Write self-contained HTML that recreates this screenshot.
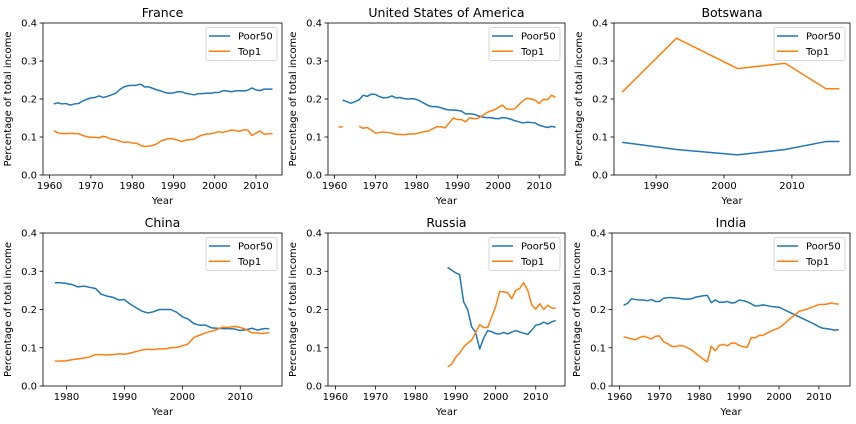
<!DOCTYPE html>
<html><head><meta charset="utf-8"><style>
body{margin:0;background:#fff;}
svg{display:block;font-family:"DejaVu Sans","Liberation Sans",sans-serif;}
</style></head><body>
<svg id="chart" width="856" height="424" xmlns="http://www.w3.org/2000/svg"></svg>
<script>
const yTicks=[0,0.1,0.2,0.3,0.4];
const yTickLabels=["0.0","0.1","0.2","0.3","0.4"];
const franceYears=[];for(let y=1961;y<=2014;y++)franceYears.push(y);
const francePoor=[0.187,0.19,0.187,0.188,0.184,0.187,0.188,0.195,0.199,0.203,0.204,0.208,0.204,0.207,0.211,0.215,0.225,0.232,0.235,0.236,0.236,0.239,0.232,0.232,0.228,0.224,0.221,0.217,0.215,0.216,0.219,0.219,0.215,0.213,0.211,0.214,0.214,0.215,0.215,0.217,0.217,0.222,0.221,0.219,0.221,0.222,0.221,0.223,0.229,0.224,0.222,0.226,0.226,0.226];
const franceTop=[0.117,0.111,0.109,0.109,0.11,0.109,0.109,0.104,0.101,0.099,0.099,0.098,0.102,0.099,0.094,0.093,0.089,0.086,0.087,0.084,0.084,0.078,0.075,0.076,0.078,0.082,0.09,0.093,0.096,0.095,0.092,0.088,0.092,0.093,0.094,0.101,0.105,0.108,0.108,0.111,0.114,0.112,0.115,0.118,0.117,0.115,0.119,0.118,0.104,0.11,0.116,0.107,0.109,0.109];
const usYears=[];for(let y=1961;y<=2014;y++)usYears.push(y);
const usPoor=[null,0.197,0.193,0.189,0.193,0.198,0.21,0.207,0.213,0.212,0.206,0.203,0.204,0.208,0.203,0.204,0.201,0.2,0.201,0.199,0.194,0.188,0.182,0.18,0.18,0.177,0.173,0.171,0.171,0.17,0.168,0.161,0.161,0.16,0.156,0.153,0.151,0.151,0.149,0.148,0.151,0.15,0.147,0.143,0.14,0.137,0.139,0.138,0.137,0.131,0.128,0.125,0.128,0.126];
const usTop=[0.126,0.127,null,null,null,0.128,0.123,0.125,0.118,0.11,0.112,0.113,0.112,0.11,0.107,0.107,0.106,0.108,0.108,0.109,0.112,0.114,0.116,0.122,0.127,0.127,0.124,0.137,0.15,0.146,0.146,0.14,0.151,0.148,0.149,0.155,0.163,0.168,0.171,0.178,0.184,0.174,0.173,0.174,0.185,0.195,0.202,0.2,0.197,0.188,0.199,0.198,0.21,0.204];
const bwYears=[1985,1993,2002,2009,2015,2017];
const bwPoor=[0.086,0.067,0.053,0.067,0.088,0.088];
const bwTop=[0.218,0.36,0.28,0.294,0.227,0.227];
const cnYears=[];for(let y=1978;y<=2015;y++)cnYears.push(y);
const cnPoor=[0.27,0.27,0.268,0.265,0.259,0.261,0.258,0.255,0.24,0.235,0.232,0.225,0.226,0.214,0.205,0.196,0.191,0.194,0.2,0.2,0.2,0.193,0.181,0.175,0.163,0.159,0.159,0.152,0.151,0.15,0.15,0.149,0.145,0.147,0.151,0.146,0.15,0.15];
const cnTop=[0.065,0.065,0.066,0.069,0.071,0.073,0.076,0.082,0.082,0.081,0.082,0.084,0.083,0.086,0.09,0.094,0.096,0.095,0.097,0.097,0.1,0.101,0.105,0.11,0.127,0.133,0.139,0.143,0.148,0.154,0.153,0.156,0.153,0.148,0.139,0.139,0.137,0.14];
const ruYears=[];for(let y=1988;y<=2015;y++)ruYears.push(y);
const ruPoor=[0.31,0.303,0.296,0.291,0.22,0.2,0.155,0.14,0.097,0.125,0.145,0.142,0.137,0.136,0.14,0.136,0.141,0.145,0.141,0.138,0.135,0.146,0.159,0.161,0.167,0.162,0.168,0.171];
const ruTop=[0.05,0.057,0.075,0.086,0.102,0.112,0.12,0.14,0.16,0.153,0.153,0.18,0.208,0.247,0.246,0.244,0.228,0.25,0.255,0.27,0.25,0.212,0.201,0.215,0.2,0.211,0.204,0.203];
const inYears=[];for(let y=1961;y<=2015;y++)inYears.push(y);
const inPoor=[0.211,0.216,0.228,0.226,0.225,0.225,0.223,0.226,0.221,0.221,0.229,0.231,0.231,0.23,0.229,0.227,0.227,0.228,0.232,0.234,0.236,0.237,0.218,0.225,0.219,0.219,0.221,0.217,0.218,0.225,0.223,0.22,0.215,0.209,0.21,0.212,0.21,0.208,0.207,0.206,0.201,0.196,0.191,0.186,0.181,0.176,0.171,0.166,0.161,0.155,0.151,0.15,0.148,0.146,0.147];
const inTop=[0.128,0.126,0.123,0.121,0.127,0.13,0.127,0.123,0.13,0.131,0.116,0.111,0.104,0.103,0.106,0.105,0.1,0.095,0.086,0.078,0.07,0.063,0.104,0.092,0.106,0.109,0.105,0.112,0.112,0.106,0.103,0.101,0.126,0.126,0.132,0.133,0.138,0.144,0.148,0.152,0.16,0.169,0.178,0.186,0.195,0.198,0.201,0.205,0.209,0.213,0.213,0.214,0.217,0.215,0.214];

const panels=[
 {name:"france",title:"France",L:43,T:23,R:282,B:175,x0:1958.4,x1:2016.3,ticks:[1960,1970,1980,1990,2000,2010],yrs:franceYears,p:francePoor,t:franceTop},
 {name:"usa",title:"United States of America",L:328,T:23,R:565,B:175,x0:1958.4,x1:2016.3,ticks:[1960,1970,1980,1990,2000,2010],yrs:usYears,p:usPoor,t:usTop},
 {name:"botswana",title:"Botswana",L:614,T:23,R:850,B:175,x0:1983.8,x1:2018.55,ticks:[1990,2000,2010],yrs:bwYears,p:bwPoor,t:bwTop},
 {name:"china",title:"China",L:43,T:233,R:282,B:386,x0:1975.95,x1:2017.2,ticks:[1980,1990,2000,2010],yrs:cnYears,p:cnPoor,t:cnTop},
 {name:"russia",title:"Russia",L:328,T:233,R:565,B:386,x0:1958.15,x1:2017.3,ticks:[1960,1970,1980,1990,2000,2010],yrs:ruYears,p:ruPoor,t:ruTop},
 {name:"india",title:"India",L:612,T:233,R:850,B:386,x0:1958.1,x1:2017.8,ticks:[1960,1970,1980,1990,2000,2010],yrs:inYears,p:inPoor,t:inTop}
];
const NS="http://www.w3.org/2000/svg";
const svg=document.getElementById('chart');
function mk(tag,attrs,parent,text){const e=document.createElementNS(NS,tag);for(const k in attrs)e.setAttribute(k,attrs[k]);if(text!==undefined)e.textContent=text;parent.appendChild(e);return e;}
panels.forEach(P=>{
 const g=mk('g',{},svg);
 
 
 const xs=v=>P.L+(v-P.x0)/(P.x1-P.x0)*(P.R-P.L);
 const ys=v=>P.B-v/0.4*(P.B-P.T);
 const tt=mk('text',{x:(P.L+P.R)/2,y:P.T-6,'text-anchor':'middle','font-size':'12.5',fill:'#000'},g,P.title);
 
 
 yTicks.forEach((v,i)=>{
  const y=ys(v);
  mk('line',{x1:P.L-3.5,x2:P.L,y1:y,y2:y,stroke:'#000','stroke-width':0.8},g);
  const l=mk('text',{x:P.L-6,y:y+3.5,'text-anchor':'end','font-size':'10',fill:'#000'},g,yTickLabels[i]);
  
  
 });
 P.ticks.forEach(v=>{
  const x=xs(v);
  mk('line',{x1:x,x2:x,y1:P.B,y2:P.B+3.5,stroke:'#000','stroke-width':0.8},g);
  const l=mk('text',{x:x,y:P.B+14,'text-anchor':'middle','font-size':'10',fill:'#000'},g,String(v));
  
  
 });
 const xl=mk('text',{x:(P.L+P.R)/2,y:P.B+29,'text-anchor':'middle','font-size':'10',fill:'#000'},g,'Year');
 
 
 const cy=(P.T+P.B)/2, cx=P.L-32;
 const yl=mk('text',{x:cx,y:cy,'text-anchor':'middle','font-size':'10',fill:'#000',transform:`rotate(-90 ${cx} ${cy})`},g,'Percentage of total income');
 
 
 [[P.p,'#1f77b4','poor50'],[P.t,'#ff7f0e','top1']].forEach(([arr,col,nm])=>{
  let d='',pen=false;
  arr.forEach((v,i)=>{
   if(v===null||v===undefined){pen=false;return;}
   d+=(pen?'L':'M')+xs(P.yrs[i]).toFixed(2)+','+ys(v).toFixed(2)+' ';pen=true;
  });
  const path=mk('path',{d:d,fill:'none',stroke:col,'stroke-width':1.5,'stroke-linejoin':'round'},g);
  
  
 });
 mk('rect',{x:P.L,y:P.T,width:P.R-P.L,height:P.B-P.T,fill:'none',stroke:'#000','stroke-width':0.8},g);
 const lg=mk('g',{},g);
 
 
 const lx=P.R-76, ly=P.T+4.5;
 mk('rect',{x:lx,y:ly,width:71,height:33,rx:2,fill:'#fff','fill-opacity':0.8,stroke:'#ccc','stroke-width':0.8},lg);
 [['Poor50','#1f77b4'],['Top1','#ff7f0e']].forEach(([lab,col],i)=>{
  const yy=ly+8.5+i*15.3;
  mk('line',{x1:lx+3,x2:lx+24,y1:yy,y2:yy,stroke:col,'stroke-width':1.5},lg);
  const t=mk('text',{x:lx+32,y:yy+3.5,'font-size':'10',fill:'#000'},lg,lab);
  
  
 });
});
</script>
</body></html>
